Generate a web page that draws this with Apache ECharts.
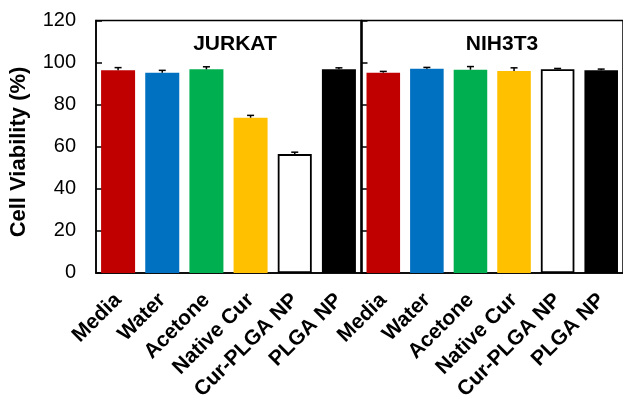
<!DOCTYPE html>
<html>
<head>
<meta charset="utf-8">
<script src="https://cdn.jsdelivr.net/npm/echarts@6/dist/echarts.min.js"></script>
<style>
html,body{margin:0;padding:0;background:#fff;}
#chart{width:623px;height:403px;}
</style>
</head>
<body>
<div id="chart"></div>
<script>
const categories = ['Media', 'Water', 'Acetone', 'Native Cur', 'Cur-PLGA NP', 'PLGA NP'];
const barColors = ['#C00000', '#0070C0', '#00B050', '#FFC000', '#FFFFFF', '#000000'];
const panelTitles = ['JURKAT', 'NIH3T3'];
const jurkatValues = [96.4, 95.2, 96.8, 73.8, 56.5, 96.8];
const jurkatErrors = [1.2, 1.1, 1.2, 1.1, 0.9, 0.7];
const nihValues = [95.2, 97.1, 96.6, 96.0, 96.8, 96.3];
const nihErrors = [0.6, 0.6, 1.5, 1.5, 0.4, 0.6];
const yAxisTitle = 'Cell Viability (%)';
const yMin = 0, yMax = 120, yInterval = 20;

const FONT = '"Liberation Sans", Arial, sans-serif';

function barData(values) {
  return values.map((v, i) => ({
    value: v,
    itemStyle: {
      color: barColors[i],
      borderColor: barColors[i] === '#FFFFFF' ? '#000' : barColors[i],
      borderWidth: barColors[i] === '#FFFFFF' ? 1.8 : 0
    }
  }));
}
function errData(values, errs) {
  return values.map((v, i) => [i, v, v + errs[i]]);
}
function errRender(params, api) {
  const x = api.value(0);
  const lo = api.coord([x, api.value(1)]);
  const hi = api.coord([x, api.value(2)]);
  const half = 3.5;
  const style = { stroke: '#000', lineWidth: 1.5 };
  return {
    type: 'group',
    children: [
      { type: 'line', shape: { x1: lo[0], y1: lo[1], x2: hi[0], y2: hi[1] }, style: style },
      { type: 'line', shape: { x1: hi[0] - half, y1: hi[1], x2: hi[0] + half, y2: hi[1] }, style: style }
    ]
  };
}

const grids = [
  { left: 96, top: 20.5, width: 265, height: 252.8 },
  { left: 361.5, top: 20.5, width: 267, height: 252.8 }
];

const xAxes = grids.map((g, k) => ({
  type: 'category',
  gridIndex: k,
  data: categories,
  axisLine: { lineStyle: { color: '#000', width: 1.5 } },
  axisTick: { inside: true, alignWithLabel: true, length: 5, lineStyle: { color: '#000', width: 1.5 } },
  axisLabel: {
    interval: 0, rotate: 45, margin: 24,
    color: '#000', fontFamily: FONT, fontWeight: 'bold', fontSize: 21
  }
}));

const yAxes = grids.map((g, k) => ({
  type: 'value',
  gridIndex: k,
  min: yMin, max: yMax, interval: yInterval,
  splitLine: { show: false },
  axisLine: { show: true, lineStyle: { color: '#000', width: 1.5 } },
  axisTick: { show: true, inside: true, length: 6, lineStyle: { color: '#000', width: 1.5 } },
  axisLabel: {
    show: k === 0, margin: 20,
    color: '#000', fontFamily: FONT, fontSize: 20
  }
}));

const option = {
  animation: false,
  backgroundColor: '#fff',
  grid: grids.map(g => Object.assign({ show: true, borderColor: '#000', borderWidth: 1.5, backgroundColor: 'transparent' }, g)),
  title: panelTitles.map((t, k) => ({
    text: t,
    left: k === 0 ? 230 : 497,
    top: 29,
    textAlign: 'center',
    textStyle: { fontFamily: FONT, fontWeight: 'bold', fontSize: 21, color: '#000' }
  })),
  xAxis: xAxes,
  yAxis: yAxes,
  graphic: [{
    type: 'text',
    x: 8, y: 152,
    rotation: Math.PI / 2,
    style: {
      text: yAxisTitle,
      fontFamily: FONT, fontWeight: 'bold', fontSize: 22,
      fill: '#000', align: 'center', verticalAlign: 'top'
    }
  }],
  series: [
    { type: 'bar', xAxisIndex: 0, yAxisIndex: 0, data: barData(jurkatValues), barCategoryGap: '23%' },
    { type: 'bar', xAxisIndex: 1, yAxisIndex: 1, data: barData(nihValues), barCategoryGap: '23%' },
    { type: 'custom', xAxisIndex: 0, yAxisIndex: 0, data: errData(jurkatValues, jurkatErrors), renderItem: errRender, z: 5 },
    { type: 'custom', xAxisIndex: 1, yAxisIndex: 1, data: errData(nihValues, nihErrors), renderItem: errRender, z: 5 }
  ]
};

const chart = echarts.init(document.getElementById('chart'), null, { renderer: 'canvas' });
chart.setOption(option);
</script>
</body>
</html>
